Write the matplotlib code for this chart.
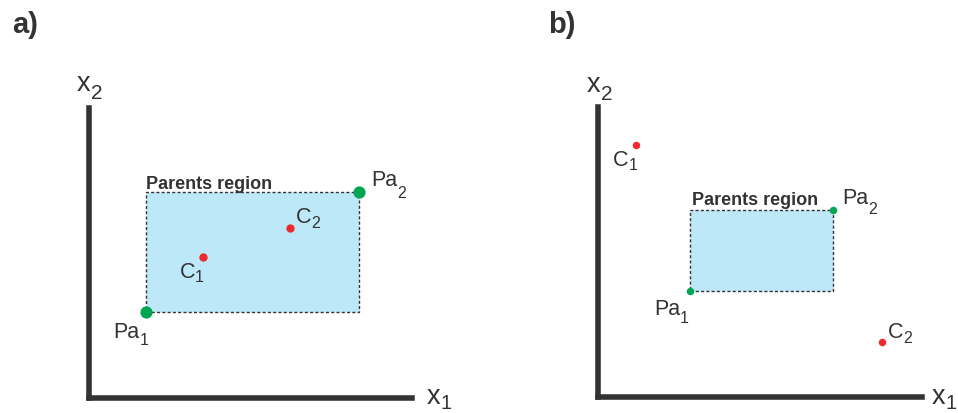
import matplotlib
matplotlib.use('Agg')
import matplotlib.pyplot as plt
from matplotlib.patches import Rectangle

plt.rcParams['font.family'] = ['Liberation Sans', 'DejaVu Sans']

# DATA (units = distance from the origin of each sketch)
pa_a_x = [57, 270]
pa_a_y = [86, 206]
c_a_x = [114, 201]
c_a_y = [141, 170]

pa_b_x = [92, 235]
pa_b_y = [106, 187]
c_b_x = [38, 284]
c_b_y = [252, 55]

subs = ['1', '2']
region_text = 'Parents region'
panel_tags = ['a)', 'b)']

# estilos
dark = '#333333'
fill = '#bde8f7'
green = '#00a651'
red = '#ee2a2f'
W, H = 958, 414


def label(ax, xy, main, sub, off, drop, size=15.5, subsize=11.5, coords='data'):
    t = ax.annotate(main, xy=xy, xycoords=coords, xytext=off,
                    textcoords='offset pixels', annotation_clip=False,
                    fontsize=size, color=dark, ha='left', va='baseline')
    ax.annotate(sub, xy=(1, 0), xycoords=t, xytext=(0, -drop + 1),
                textcoords='offset pixels', fontsize=subsize, color=dark,
                ha='left', va='bottom')


def sketch(rect, w, h, pa_x, pa_y, c_x, c_y, pa_ms, c_ms,
           pa_off, pa_drop, c_off, c_drop, reg_off, x1_off, x2_off):
    ax = fig.add_axes(rect)
    ax.set_xlim(0, w)
    ax.set_ylim(0, h)
    ax.patch.set_visible(False)
    ax.set_xticks([])
    ax.set_yticks([])
    for s in ['top', 'right']:
        ax.spines[s].set_visible(False)
    for s in ['left', 'bottom']:
        ax.spines[s].set_linewidth(4)
        ax.spines[s].set_color(dark)
        ax.spines[s].set_capstyle('projecting')

    ax.add_patch(Rectangle((pa_x[0], pa_y[0]), pa_x[1] - pa_x[0], pa_y[1] - pa_y[0],
                           facecolor=fill, edgecolor=dark, lw=1.0,
                           linestyle=(0, (2.2, 1.6)), zorder=1))
    ax.plot(pa_x, pa_y, 'o', color=green, ms=pa_ms, mew=0, zorder=3)
    ax.plot(c_x, c_y, 'o', color=red, ms=c_ms, mew=0, zorder=3)

    for i in range(2):
        label(ax, (pa_x[i], pa_y[i]), 'Pa', subs[i], pa_off[i], pa_drop[i])
        label(ax, (c_x[i], c_y[i]), 'C', subs[i], c_off[i], c_drop[i])

    ax.annotate(region_text, xy=(pa_x[0], pa_y[1]), xytext=reg_off,
                textcoords='offset pixels', fontsize=13, fontweight='bold',
                color=dark, ha='left', va='baseline')

    # nombres de los ejes
    label(ax, (1, 0), 'x', '1', x1_off, 4, size=19.5, subsize=14.5, coords='axes fraction')
    label(ax, (0, 1), 'x', '2', x2_off, 7, size=19.5, subsize=15, coords='axes fraction')
    return ax


fig = plt.figure(figsize=(W / 100, H / 100), dpi=100)

sketch([88.5 / W, 15.5 / H, 323.5 / W, 289.5 / H], 323.5, 289.5,
       pa_a_x, pa_a_y, c_a_x, c_a_y, 8.8, 6,
       [(-32, -26), (13, 6)], [6, 11], [(-23, -21), (6, 5)], [3, 4],
       (1, 3.5), (15, -6), (-11.5, 18))

sketch([598 / W, 16 / H, 324 / W, 290 / H], 324, 290,
       pa_b_x, pa_b_y, c_b_x, c_b_y, 5.4, 5.4,
       [(-36, -23), (9, 7)], [7, 9], [(-23, -20), (6, 5)], [3, 4],
       (2, 6), (10, -6), (-11, 16))

fig.text(12 / W, 1 - 33 / H, panel_tags[0], fontsize=21, fontweight='bold',
         color=dark, ha='left', va='baseline')
fig.text(548 / W, 1 - 33 / H, panel_tags[1], fontsize=21, fontweight='bold',
         color=dark, ha='left', va='baseline')

fig.savefig('out.png', dpi=100)
